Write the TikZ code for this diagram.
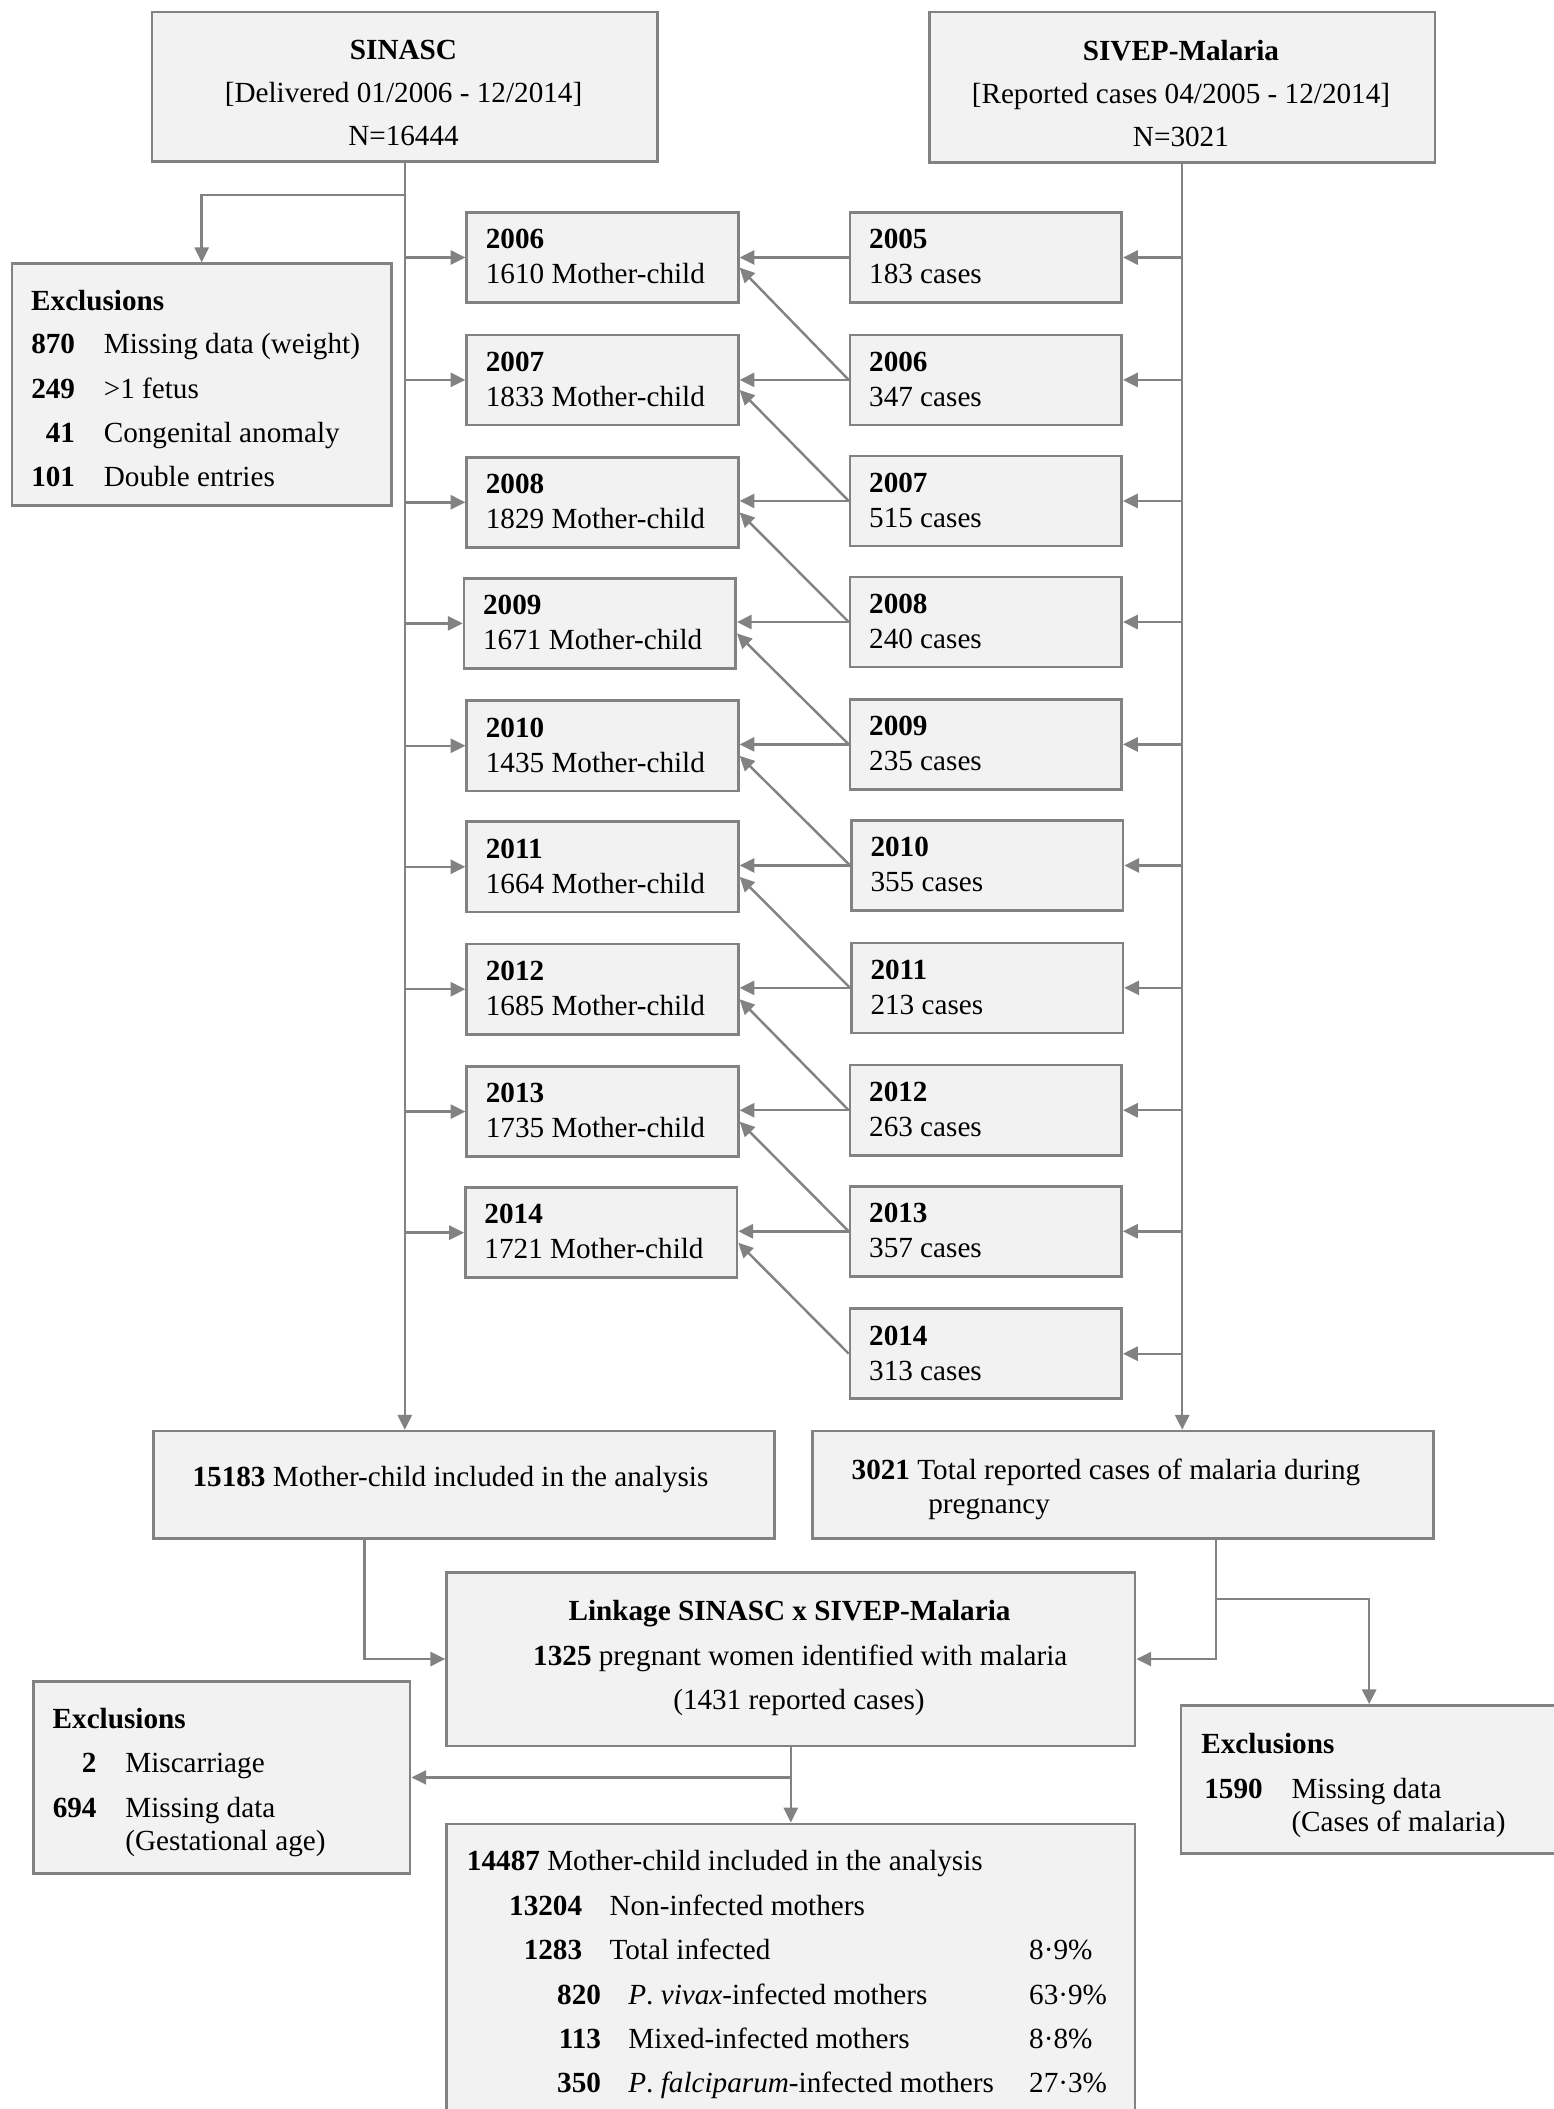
\documentclass[tikz,border=0pt]{standalone}
\usepackage{fontspec}
\setmainfont{Liberation Serif}
\usetikzlibrary{arrows.meta,calc}
\definecolor{lc}{HTML}{828282}
\definecolor{bf}{HTML}{F2F2F2}
\newcommand\fsz{\fontsize{21.7}{25}\selectfont}
\tikzset{
  box/.style={draw=lc, fill=bf, line width=1.9pt, rectangle, inner sep=0pt, anchor=north west},
  conn/.style={draw=lc, line width=1.8pt, -{Triangle[length=11pt,width=10.5pt]}},
  tw/.style={inner sep=0pt, anchor=base west, font=\fsz},
  te/.style={inner sep=0pt, anchor=base east, font=\fsz},
  tc/.style={inner sep=0pt, anchor=base, font=\fsz},
}
\newcommand\mkbox[5]{\node[box, minimum width=#4pt, minimum height=#5pt] (#1) at (#2,#3) {};}
\begin{document}
\begin{tikzpicture}[x=1pt,y=-1pt]
\useasboundingbox (0,0) rectangle (1155,1568);
% top boxes
\mkbox{sinasc}{112}{8}{376}{111}
\node[tc] (t1) at (300,44) {\textbf{SINASC}};
\node[tc] (t2) at (300,76) {[Delivered 01/2006 - 12/2014]};
\node[tc] (t3) at (300,108) {N=16444};
\mkbox{sivep}{690}{8}{376}{112}
\node[tc] (t4) at (878,45) {\textbf{SIVEP-Malaria}};
\node[tc] (t5) at (878,77) {[Reported cases 04/2005 - 12/2014]};
\node[tc] (t6) at (878,109) {N=3021};
% exclusions 1
\mkbox{exa}{8}{195}{282}{180}
\node[tw] (e0) at (23,231) {\textbf{Exclusions}};
\node[te] (e1n) at (56,263) {\textbf{870}};
\node[tw] (e1t) at (77,263) {Missing data (weight)};
\node[te] (e2n) at (56,296) {\textbf{249}};
\node[tw] (e2t) at (77,296) {>1 fetus};
\node[te] (e3n) at (56,329) {\textbf{41}};
\node[tw] (e3t) at (77,329) {Congenital anomaly};
\node[te] (e4n) at (56,362) {\textbf{101}};
\node[tw] (e4t) at (77,362) {Double entries};
% mother-child boxes
\foreach \yr/\n/\t/\xx in {2006/1610/157/346,2007/1833/248/346,2008/1829/339/346,2009/1671/429/344,2010/1435/520/346,2011/1664/610/346,2012/1685/701/346,2013/1735/792/346,2014/1721/882/345}{
  \mkbox{m\yr}{\xx}{\t}{202}{67}
  \node[tw] (my\yr) at (\xx+15,\t+28) {\textbf{\yr}};
  \node[tw] (mn\yr) at (\xx+15,\t+54) {\n\ Mother-child};
}
% case boxes
\foreach \yr/\n/\t/\xx in {2005/183/157/631,2006/347/248/631,2007/515/338/631,2008/240/428/631,2009/235/519/631,2010/355/609/632,2011/213/700/632,2012/263/791/631,2013/357/881/631,2014/313/972/631}{
  \mkbox{c\yr}{\xx}{\t}{202}{67}
  \node[tw] (cy\yr) at (\xx+15,\t+28) {\textbf{\yr}};
  \node[tw] (cn\yr) at (\xx+15,\t+54) {\n\ cases};
}
% bottom boxes
\mkbox{inc}{113}{1063}{462}{80}
\node[tw] (it) at (143,1105) {\textbf{15183} Mother-child included in the analysis};
\mkbox{tot}{603}{1063}{462}{80}
\node[tw] (tt1) at (633,1100) {\textbf{3021} Total reported cases of malaria during};
\node[tw] (tt2) at (690,1125) {pregnancy};
\mkbox{link}{331}{1168}{512}{129}
\node[tc] (l1) at (587,1205) {\textbf{Linkage SINASC x SIVEP-Malaria}};
\node[tc] (l2) at (595,1238) {\textbf{1325} pregnant women identified with malaria};
\node[tc] (l3) at (594,1271) {(1431 reported cases)};
\mkbox{exb}{24}{1249}{280}{143}
\node[tw] (f0) at (39,1285) {\textbf{Exclusions}};
\node[te] (f1n) at (72,1318) {\textbf{2}};
\node[tw] (f1t) at (93,1318) {Miscarriage};
\node[te] (f2n) at (72,1351) {\textbf{694}};
\node[tw] (f2t) at (93,1351) {Missing data};
\node[tw] (f3t) at (93,1376) {(Gestational age)};
\mkbox{exc}{877}{1267}{280}{110}
\node[tw] (g0) at (893,1304) {\textbf{Exclusions}};
\node[te] (g1n) at (939,1337) {\textbf{1590}};
\node[tw] (g1t) at (960,1337) {Missing data};
\node[tw] (g2t) at (960,1362) {(Cases of malaria)};
\mkbox{fin}{331}{1355}{512}{260}
\node[tw] (h0) at (347,1391) {\textbf{14487} Mother-child included in the analysis};
\node[te] (h1n) at (433,1424) {\textbf{13204}};
\node[tw] (h1t) at (453,1424) {Non-infected mothers};
\node[te] (h2n) at (433,1457) {\textbf{1283}};
\node[tw] (h2t) at (453,1457) {Total infected};
\node[tw] (h2p) at (765,1457) {8·9\%};
\node[te] (h3n) at (447,1490) {\textbf{820}};
\node[tw] (h3t) at (467,1490) {\textit{P}. \textit{vivax}-infected mothers};
\node[tw] (h3p) at (765,1490) {63·9\%};
\node[te] (h4n) at (447,1523) {\textbf{113}};
\node[tw] (h4t) at (467,1523) {Mixed-infected mothers};
\node[tw] (h4p) at (765,1523) {8·8\%};
\node[te] (h5n) at (447,1556) {\textbf{350}};
\node[tw] (h5t) at (467,1556) {\textit{P}. \textit{falciparum}-infected mothers};
\node[tw] (h5p) at (765,1556) {27·3\%};
% connectors: left spine
\draw[conn] (sinasc.south) -- (sinasc.south |- inc.north);
\draw[conn] ($(sinasc.south)+(0,24)$) -| (exa.north);
\foreach \yr in {2006,...,2014}{
  \draw[conn] (sinasc.south |- m\yr.west) -- (m\yr.west);
}
% right spine
\draw[conn] (sivep.south) -- (sivep.south |- tot.north);
\foreach \yr in {2005,...,2014}{
  \draw[conn] (sivep.south |- c\yr.east) -- (c\yr.east);
}
% case to mother-child
\foreach \yr in {2005,...,2013}{
  \pgfmathtruncatemacro\nx{\yr+1}
  \draw[conn] (c\yr.west) -- (c\yr.west -| m\nx.east);
}
\foreach \yr in {2006,...,2014}{
  \draw[conn] (c\yr.west) -- ($(m\yr.east)+(0,7.5)$);
}
% bottom connectors
\coordinate (incout) at (271,1143);
\coordinate (totout) at (904,1143);
\coordinate (totbr) at (904,1189);
\draw[conn] (incout) |- (link.west);
\draw[conn] (totout) |- (link.east);
\draw[conn] (totbr) -| (exc.north);
\draw[conn] (link.south) -- (fin.north);
\draw[conn] (link.south |- exb.east) -- (exb.east);
\end{tikzpicture}
\end{document}
